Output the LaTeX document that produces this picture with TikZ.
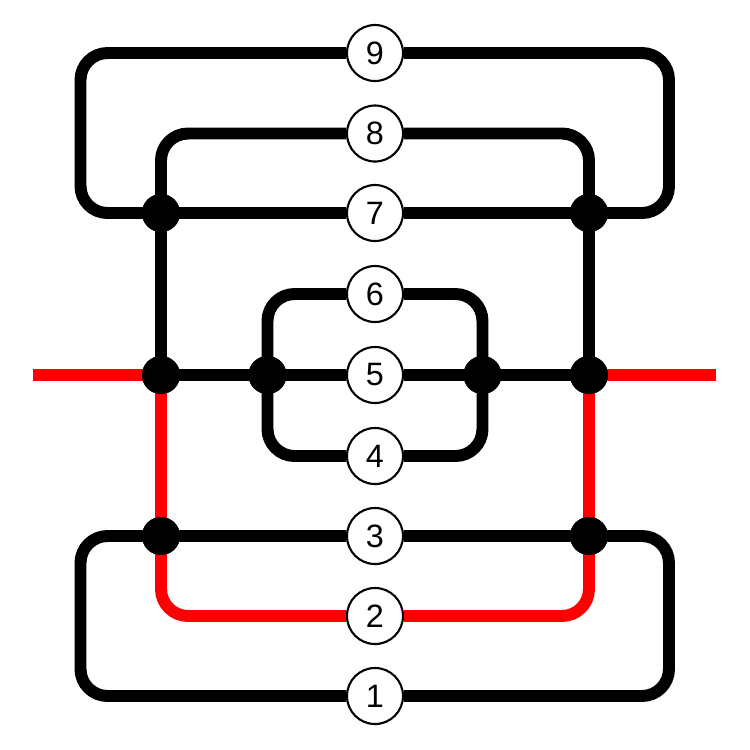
\documentclass[tikz,border=0pt]{standalone}
\usepackage{fontspec}
\setmainfont{Liberation Sans}
\usepackage{tikz}
\usetikzlibrary{arrows.meta}
\definecolor{WireRed}{HTML}{FF0000}

\begin{document}
\begin{tikzpicture}[x=0.01cm,y=-0.01cm,
 wire/.style={draw=black,line width=3.4pt,rounded corners=0.27cm},
 redwire/.style={wire,draw=WireRed},
 junction/.style={circle,fill=black,inner sep=0pt,minimum size=0.38cm},
 label/.style={circle,draw=black,line width=0.6pt,fill=white,inner sep=0pt,
 minimum size=0.56cm,font=\fontsize{9.2}{10}\selectfont}]
\useasboundingbox (0,0) rectangle (750,750);
% numbered labels
\foreach \n/\y in {9/53,8/133.5,7/213,6/294,5/375,4/456,3/536,2/616,1/696}
 \node[label] (l\n) at (375,\y) {\n};
% junctions
\node[junction] (j7l) at (161,213) {};
\node[junction] (j7r) at (589,213) {};
\node[junction] (j5a) at (161,375) {};
\node[junction] (j5b) at (267.5,375) {};
\node[junction] (j5c) at (482.5,375) {};
\node[junction] (j5d) at (589,375) {};
\node[junction] (j3l) at (161,536) {};
\node[junction] (j3r) at (589,536) {};
% outer corners and free ends
\coordinate (o7l) at (80.5,213);
\coordinate (o7r) at (669,213);
\coordinate (o3l) at (80.5,536);
\coordinate (o3r) at (669,536);
\coordinate (rl) at (33,375);
\coordinate (rr) at (716,375);
% upper part
\draw[wire] (j7l.center) -- (o7l) |- (l9) -| (o7r) -- (j7r.center);
\draw[wire] (j7l.center) |- (l8) -| (j7r.center);
\draw[wire] (j7l.center) -- (l7) -- (j7r.center);
\draw[wire] (j7l.center) -- (j5a.center);
\draw[wire] (j7r.center) -- (j5d.center);
% middle part
\draw[wire] (j5a.center) -- (j5b.center);
\draw[wire] (j5b.center) -- (l5) -- (j5c.center);
\draw[wire] (j5c.center) -- (j5d.center);
\draw[wire] (j5b.center) |- (l6) -| (j5c.center);
\draw[wire] (j5b.center) |- (l4) -| (j5c.center);
% red path
\draw[redwire] (rl) -- (j5a.center);
\draw[redwire] (j5d.center) -- (rr);
\draw[redwire] (j5a.center) -- (j3l.center);
\draw[redwire] (j5d.center) -- (j3r.center);
\draw[redwire] (j3l.center) |- (l2) -| (j3r.center);
% lower part
\draw[wire] (j3l.center) -- (l3) -- (j3r.center);
\draw[wire] (j3l.center) -- (o3l) |- (l1) -| (o3r) -- (j3r.center);
% dots on top
\foreach \j in {j7l,j7r,j5a,j5b,j5c,j5d,j3l,j3r}
 \fill (\j) circle (0.19cm);
\end{tikzpicture}
\end{document}
